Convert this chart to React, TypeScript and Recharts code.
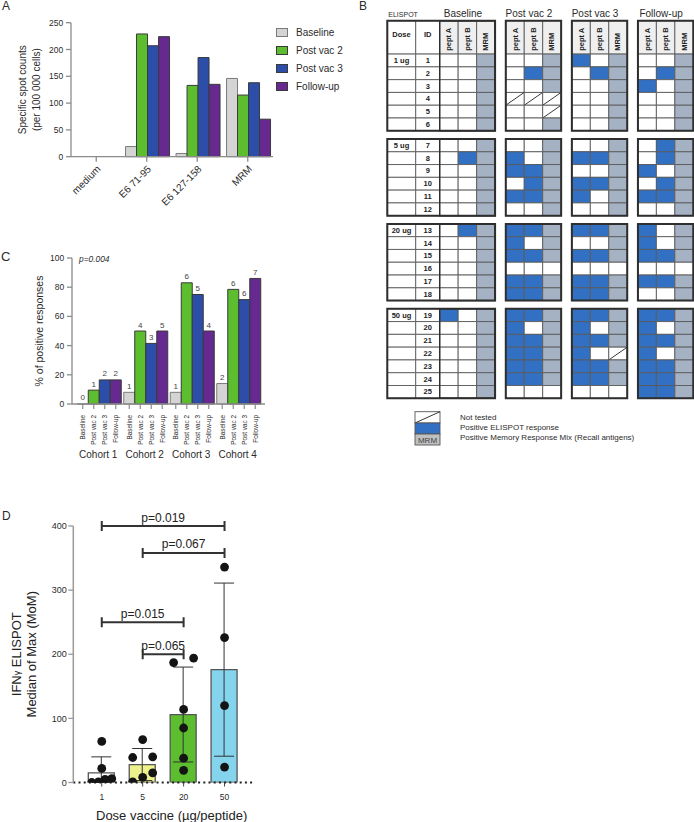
import React from "react";
import {
  Bar,
  BarChart,
  Cell,
  ComposedChart,
  ErrorBar,
  LabelList,
  ReferenceArea,
  ReferenceLine,
  Scatter,
  XAxis,
  YAxis,
} from "recharts";

const FONT = "'Liberation Sans', Arial, Helvetica, sans-serif";
const INK = "#2b2b2b";
const AXIS = { stroke: "#8c8c8c", strokeWidth: 1.3 };

// ---- Panel A: specific spot counts (per 100 000 cells)
const antigens = ["medium", "E6 71-95", "E6 127-158", "MRM"];
const spotsBaseline = [0, 19, 6, 146];
const spotsVac2 = [0, 229, 133, 115];
const spotsVac3 = [0, 207, 185, 138];
const spotsFollowUp = [0, 224, 135, 70];

const timepoints = ["Baseline", "Post vac 2", "Post vac 3", "Follow-up"];
const timepointKeys = ["base", "v2", "v3", "fu"];
const timepointColors = ["#d4d4d4", "#5cbd2e", "#2c4ea8", "#65298f"];
const timepointStrokes = ["#7a7a7a", "#3a3a3a", "#3a3a3a", "#3a3a3a"];

// ---- Panel B: ELISPOT grid. per patient "pept A, pept B, MRM":
// b = positive ELISPOT, m = positive MRM, x = not tested, . = negative
const doseLabels = ["1 ug", "5 ug", "20 ug", "50 ug"];
const cohortSizes = [6, 6, 6, 7];
const elispotBaseline = [
  "..m", "..m", "..m", "..m", "..m", "..m",
  "..m", ".bm", "..m", "..m", "..m", "..m",
  ".bm", "..m", "..m", "..m", "..m", "..m",
  "b.m", "..m", "..m", "..m", "..m", "..m", "..m",
];
const elispotVac2 = [
  "..m", ".bm", "..m", "xxx", "..x", "..m",
  "..m", "b.m", "bbm", ".bm", "bbm", "..m",
  "bbm", "b.m", "bbm", "...", "bbm", "bbm",
  "bbm", "b.m", "bbm", "bbm", "bbm", "bbm", "...",
];
const elispotVac3 = [
  "b.m", ".bm", "..m", "..m", "..m", "..m",
  "..m", "bbm", "..m", "bbm", "b.m", "..m",
  "bbm", "..m", "bbm", "...", "bbm", "bbm",
  "bbm", "b.m", "bbm", "b.x", "bbm", "bbm", "...",
];
const elispotFollowUp = [
  "..m", ".bm", "b.m", "..m", "..m", "..m",
  ".bm", ".bm", "b.m", ".bm", "bbm", "..m",
  "b.m", "b.m", "bbm", "...", "bbm", "..m",
  "bbm", "b.m", "bbm", "b.m", "bbm", "bbm", "bbm",
];
const cellColumns = ["pept A", "pept B", "MRM"];

// ---- Panel C: % of positive responses per cohort
const cohorts = ["Cohort 1", "Cohort 2", "Cohort 3", "Cohort 4"];
const pctBaseline = [0, 8, 8, 14];
const pctVac2 = [9.5, 50, 83, 78.5];
const pctVac3 = [16.5, 41.5, 75, 71.5];
const pctFollowUp = [16.5, 50, 50, 86];
const nBaseline = [0, 1, 1, 2];
const nVac2 = [1, 4, 6, 6];
const nVac3 = [2, 3, 5, 6];
const nFollowUp = [2, 5, 4, 7];

// ---- Panel D: IFNγ ELISPOT median of max per dose
const doses = ["1", "5", "20", "50"];
const momMean = [15, 28, 106, 176];
const momSd = [25, 25, 74, 135];
const momDose1 = [64, 22, 6, 0, 1, 5];
const momDose5 = [67, 40, 39, 15, 8, 1];
const momDose20 = [187, 194, 114, 85, 38, 19];
const momDose50 = [336, 226, 120, 24];
const doseColors = ["#ffffff", "#eef28c", "#5cbd2e", "#84d4ee"];
const comparisons = [
  { from: "1", to: "50", level: 400, p: "p=0.019" },
  { from: "5", to: "50", level: 358, p: "p=0.067" },
  { from: "1", to: "20", level: 250, p: "p=0.015" },
  { from: "5", to: "20", level: 200, p: "p=0.065" },
];

const BLUE = "#3170c3";
const MRM_FILL = "#a4b2c4";

function Note({ left, baseline, size, children, style }: any) {
  return (
    <div
      style={{
        position: "absolute",
        left,
        top: baseline - size * 0.85,
        fontSize: size,
        lineHeight: `${size}px`,
        whiteSpace: "nowrap",
        fontFamily: FONT,
        color: INK,
        ...style,
      }}
    >
      {children}
    </div>
  );
}

const rotatedTitle = (lines: string[], xs: number[], size: number) => (p: any) => {
  const vb = p.viewBox;
  const cy = vb.y + vb.height / 2;
  return (
    <g>
      {lines.map((l, i) => (
        <text
          key={i}
          x={xs[i]}
          y={cy}
          transform={`rotate(-90 ${xs[i]} ${cy})`}
          textAnchor="middle"
          dominantBaseline="central"
          fontSize={size}
          fill={INK}
          fontFamily={FONT}
        >
          {l}
        </text>
      ))}
    </g>
  );
};

function PanelA() {
  const series = [spotsBaseline, spotsVac2, spotsVac3, spotsFollowUp];
  const rows = antigens.map((antigen, i) => {
    const r: any = { antigen };
    timepointKeys.forEach((k, t) => (r[k] = series[t][i]));
    return r;
  });
  return (
    <div style={{ position: "absolute", left: 0, top: 0 }}>
      <BarChart
        width={345}
        height={212}
        data={rows}
        margin={{ top: 22.7, right: 72, bottom: 15.3, left: 0 }}
        barCategoryGap="8%"
        barGap={0}
      >
        <XAxis
          dataKey="antigen"
          height={40}
          interval={0}
          tick={{ fontSize: 10, fill: INK, angle: -45, textAnchor: "end", fontFamily: FONT }}
          tickSize={5}
          tickMargin={3}
          axisLine={AXIS}
          tickLine={AXIS}
        />
        <YAxis
          domain={[0, 250]}
          ticks={[0, 50, 100, 150, 200, 250]}
          width={71}
          tick={{ fontSize: 8.5, fill: INK, fontFamily: FONT }}
          tickSize={5}
          tickMargin={2.7}
          axisLine={AXIS}
          tickLine={AXIS}
          label={rotatedTitle(["Specific spot counts", "(per 100 000 cells)"], [23, 37], 10)}
        />
        {timepointKeys.map((k, t) => (
          <Bar
            key={k}
            dataKey={k}
            fill={timepointColors[t]}
            stroke={timepointStrokes[t]}
            strokeWidth={1}
            isAnimationActive={false}
          />
        ))}
      </BarChart>
      {timepoints.map((name, t) => (
        <div
          key={name}
          style={{
            position: "absolute",
            left: 276,
            top: 32.3 + t * 17.9 - 6,
            height: 12,
            display: "flex",
            alignItems: "center",
            fontFamily: FONT,
            fontSize: 10,
            color: INK,
            whiteSpace: "nowrap",
          }}
        >
          <span
            style={{
              width: 10,
              height: 7,
              background: timepointColors[t],
              border: `1px solid ${timepointStrokes[t]}`,
              marginRight: 8,
            }}
          />
          {name}
        </div>
      ))}
    </div>
  );
}

function PanelB() {
  const data = [elispotBaseline, elispotVac2, elispotVac3, elispotFollowUp];
  const G = { dose: 1.54, id: 1.3, gap: 0.58, head: 2.61, cgap: 0.64 };
  const starts = cohortSizes.map((_, c) => cohortSizes.slice(0, c).reduce((a, b) => a + b, 0));
  const nPatients = cohortSizes.reduce((a, b) => a + b, 0);
  const cohortOf = (i: number) => starts.filter((s) => s <= i).length - 1;
  const rowTop = (i: number) => G.head + i + cohortOf(i) * G.cgap;
  const blockX = (t: number) => G.dose + G.id + t * (3 + G.gap);
  const totalX = blockX(3) + 3;
  const totalY = rowTop(nPatients - 1) + 1;

  const cellLine = { stroke: "#5a5a5a", strokeWidth: 0.9 };
  const centerText = (value: string, size = 7.5, dy = 0) => (p: any) => {
    const vb = p.viewBox;
    return (
      <text
        x={vb.x + vb.width / 2}
        y={vb.y + vb.height / 2 + dy}
        textAnchor="middle"
        dominantBaseline="central"
        fontSize={size}
        fontWeight="bold"
        fill="#222"
        fontFamily={FONT}
      >
        {value}
      </text>
    );
  };
  const headText = (value: string) => (p: any) => {
    const vb = p.viewBox;
    const x = vb.x + vb.width / 2;
    const y = vb.y + vb.height - 3.3;
    return (
      <text
        x={x}
        y={y}
        transform={`rotate(-90 ${x} ${y})`}
        dominantBaseline="central"
        fontSize={7.5}
        fontWeight="bold"
        fill="#222"
        fontFamily={FONT}
      >
        {value}
      </text>
    );
  };
  const titleText = (value: string, size: number, dx: number, anchor: string) => (p: any) => {
    const vb = p.viewBox;
    const x = anchor === "middle" ? vb.x + vb.width / 2 + dx : vb.x + dx;
    return (
      <text x={x} y={vb.y - 3.6} textAnchor={anchor} fontSize={size} fill={INK} fontFamily={FONT}>
        {value}
      </text>
    );
  };
  const notTested = (p: any) => (
    <g>
      <rect x={p.x} y={p.y} width={p.width} height={p.height} fill="#fff" {...cellLine} />
      <line x1={p.x} y1={p.y + p.height} x2={p.x + p.width} y2={p.y} stroke="#222" strokeWidth={0.9} />
    </g>
  );

  const areas: React.ReactNode[] = [];
  // header row
  areas.push(
    <ReferenceArea key="h-dose" x1={0} x2={G.dose} y1={0} y2={G.head} fill="#fff" fillOpacity={1} {...cellLine} label={centerText("Dose", 7.5, -2.5)} />,
    <ReferenceArea key="h-id" x1={G.dose} x2={G.dose + G.id} y1={0} y2={G.head} fill="#fff" fillOpacity={1} {...cellLine} label={centerText("ID", 7.5, -2.5)} />,
    <ReferenceArea key="h-eli" x1={0} x2={G.dose} y1={0} y2={G.head} fill="none" stroke="none" label={titleText("ELISPOT", 7, 1, "start")} />
  );
  timepoints.forEach((tp, t) => {
    cellColumns.forEach((col, k) => {
      areas.push(
        <ReferenceArea
          key={`h-${t}-${k}`}
          x1={blockX(t) + k}
          x2={blockX(t) + k + 1}
          y1={0}
          y2={G.head}
          fill="#efefef"
          fillOpacity={1}
          {...cellLine}
          label={headText(col)}
        />
      );
    });
    areas.push(
      <ReferenceArea key={`title-${t}`} x1={blockX(t)} x2={blockX(t) + 3} y1={0} y2={G.head} fill="none" stroke="none" label={titleText(tp, 10, -4.5, "middle")} />
    );
  });
  // patient rows
  for (let i = 0; i < nPatients; i++) {
    const y1 = rowTop(i);
    const y2 = y1 + 1;
    const c = cohortOf(i);
    areas.push(
      <ReferenceArea key={`d-${i}`} x1={0} x2={G.dose} y1={y1} y2={y2} fill="#fff" fillOpacity={1} {...cellLine} label={starts[c] === i ? centerText(doseLabels[c]) : undefined} />,
      <ReferenceArea key={`id-${i}`} x1={G.dose} x2={G.dose + G.id} y1={y1} y2={y2} fill="#fff" fillOpacity={1} {...cellLine} label={centerText(String(i + 1))} />
    );
    data.forEach((tpRows, t) => {
      tpRows[i].split("").forEach((s, k) => {
        const common = { x1: blockX(t) + k, x2: blockX(t) + k + 1, y1, y2 };
        if (s === "x") {
          areas.push(<ReferenceArea key={`c-${t}-${i}-${k}`} {...common} shape={notTested} />);
        } else {
          const fill = s === "b" ? BLUE : s === "m" ? MRM_FILL : "#ffffff";
          areas.push(<ReferenceArea key={`c-${t}-${i}-${k}`} {...common} fill={fill} fillOpacity={1} {...cellLine} />);
        }
      });
    });
  }
  // thick outlines per cohort block
  cohortSizes.forEach((n, c) => {
    const top = c === 0 ? 0 : rowTop(starts[c]);
    const bottom = rowTop(starts[c]) + n;
    areas.push(
      <ReferenceArea key={`o-first-${c}`} x1={0} x2={blockX(0) + 3} y1={top} y2={bottom} fill="none" stroke="#2e2e2e" strokeWidth={2} />,
      <ReferenceArea key={`o-sep-${c}`} x1={G.dose + G.id} x2={blockX(0) + 3} y1={top} y2={bottom} fill="none" stroke="#2e2e2e" strokeWidth={1.4} />
    );
    for (let t = 1; t < 4; t++) {
      areas.push(
        <ReferenceArea key={`o-${t}-${c}`} x1={blockX(t)} x2={blockX(t) + 3} y1={top} y2={bottom} fill="none" stroke="#2e2e2e" strokeWidth={2} />
      );
    }
  });

  return (
    <div style={{ position: "absolute", left: 385, top: 0 }}>
      <ComposedChart width={309} height={400} margin={{ top: 20.7, right: 0.7, bottom: 1.7, left: 2.3 }}>
        <XAxis type="number" dataKey="x" domain={[0, totalX]} hide allowDataOverflow />
        <YAxis type="number" dataKey="y" domain={[0, totalY]} reversed hide allowDataOverflow />
        {areas}
      </ComposedChart>
    </div>
  );
}

function PanelBLegend() {
  return (
    <>
      <svg style={{ position: "absolute", left: 414, top: 410 }} width={28} height={37}>
        <rect x={1} y={1.7} width={25} height={11.3} fill="#fff" stroke="#555" strokeWidth={0.9} />
        <line x1={1} y1={13} x2={26} y2={1.7} stroke="#222" strokeWidth={0.9} />
        <rect x={1} y={13} width={25} height={11} fill={BLUE} stroke="#555" strokeWidth={0.9} />
        <rect x={1} y={24} width={25} height={11} fill="#c0c0c0" stroke="#555" strokeWidth={0.9} />
        <text x={13.5} y={32.6} textAnchor="middle" fontSize={8} fill="#444" fontFamily={FONT}>
          MRM
        </text>
      </svg>
      <Note left={460} baseline={421.2} size={8}>Not tested</Note>
      <Note left={460} baseline={431.2} size={8}>Positive ELISPOT response</Note>
      <Note left={460} baseline={441.2} size={8}>Positive Memory Response Mix (Recall antigens)</Note>
    </>
  );
}

function UnderLabel({ p, name }: any) {
  const vb = p.viewBox ?? p;
  const cx = vb.x + vb.width / 2;
  const base = vb.y + vb.height;
  const ty = base + 11;
  return (
    <g>
      <line x1={cx} y1={base} x2={cx} y2={base + 5} stroke="#8c8c8c" strokeWidth={1.2} />
      <text
        x={cx}
        y={ty}
        transform={`rotate(-90 ${cx} ${ty})`}
        textAnchor="end"
        dominantBaseline="central"
        fontSize={6.4}
        fill={INK}
        fontFamily={FONT}
      >
        {name}
      </text>
    </g>
  );
}

function PanelC() {
  const series = [pctBaseline, pctVac2, pctVac3, pctFollowUp];
  const counts = [nBaseline, nVac2, nVac3, nFollowUp];
  const rows = cohorts.map((cohort, i) => {
    const r: any = { cohort };
    timepointKeys.forEach((k, t) => {
      r[k] = series[t][i];
      r[`n_${k}`] = counts[t][i];
    });
    return r;
  });
  return (
    <div style={{ position: "absolute", left: 0, top: 240 }}>
      <BarChart
        width={345}
        height={230}
        data={rows}
        margin={{ top: 18, right: 80, bottom: 6, left: 0 }}
        barCategoryGap={2.25}
        barGap={0}
      >
        <XAxis
          dataKey="cohort"
          height={60}
          interval={0}
          padding={{ left: 3, right: 4 }}
          tickSize={0}
          tickMargin={0}
          tickLine={false}
          axisLine={AXIS}
          tick={(p: any) => (
            <text x={p.x} y={p.y + 53.5} textAnchor="middle" fontSize={10} fill={INK} fontFamily={FONT}>
              {p.payload.value}
            </text>
          )}
        />
        <YAxis
          domain={[0, 100]}
          ticks={[0, 20, 40, 60, 80, 100]}
          width={72}
          tick={{ fontSize: 8.5, fill: INK, fontFamily: FONT }}
          tickSize={5}
          tickMargin={2.7}
          axisLine={AXIS}
          tickLine={AXIS}
          label={rotatedTitle(["% of positive responses"], [39], 10.5)}
        />
        {timepointKeys.map((k, t) => (
          <Bar
            key={k}
            dataKey={k}
            fill={timepointColors[t]}
            stroke={timepointStrokes[t]}
            strokeWidth={1}
            minPointSize={(v: number) => (v === 0 ? 0.01 : 0)}
            isAnimationActive={false}
          >
            <LabelList dataKey={`n_${k}`} position="top" offset={3.5} fontSize={8} fill="#444" fontFamily={FONT} />
            <LabelList dataKey={k} content={(p: any) => <UnderLabel p={p} name={timepoints[t]} />} />
          </Bar>
        ))}
      </BarChart>
      <Note left={79} baseline={22.5} size={8.4} style={{ fontStyle: "italic" }}>
        p=0.004
      </Note>
    </div>
  );
}

// horizontal spread of dots that overlap in value (GraphPad-like scatter)
function spreadOffsets(values: number[], closeness: number, span: number) {
  const order = values.map((_, i) => i).sort((a, b) => values[a] - values[b]);
  const offs = values.map(() => 0);
  let group: number[] = [];
  const flush = () => {
    const n = group.length;
    group.forEach((idx, k) => (offs[idx] = n > 1 ? (k / (n - 1) - 0.5) * span : 0));
    group = [];
  };
  order.forEach((idx) => {
    if (group.length && values[idx] - values[group[group.length - 1]] >= closeness) flush();
    group.push(idx);
  });
  flush();
  return offs;
}

function PanelD() {
  const points = [momDose1, momDose5, momDose20, momDose50];
  const rows = doses.map((dose, i) => {
    const r: any = { dose, mean: momMean[i], err: [Math.min(momSd[i], momMean[i]), momSd[i]] };
    const offs = spreadOffsets(points[i], 14, 20);
    points[i].forEach((v, k) => {
      r[`p${k}`] = v;
      r[`dx${k}`] = offs[k];
    });
    return r;
  });
  const maxPts = Math.max(...points.map((p) => p.length));
  const dot = (k: number) => (p: any) => {
    if (p.payload == null || p.payload[`p${k}`] == null || !Number.isFinite(p.cy)) return <g />;
    return <circle cx={p.cx + p.payload[`dx${k}`]} cy={p.cy} r={4.4} fill="#141414" />;
  };
  const bracket = (p: any) => (
    <path
      d={`M${p.x1},${p.y1 - 5}V${p.y1 + 5}M${p.x1},${p.y1}H${p.x2}M${p.x2},${p.y2 - 5}V${p.y2 + 5}`}
      stroke="#333"
      strokeWidth={2}
      fill="none"
    />
  );
  return (
    <div style={{ position: "absolute", left: 0, top: 500 }}>
      <ComposedChart width={300} height={322} data={rows} margin={{ top: 26, right: 47, bottom: 9.5, left: 0 }}>
        <XAxis
          dataKey="dose"
          height={30}
          padding={{ left: 8, right: 8 }}
          tick={{ fontSize: 8.5, fill: INK, fontFamily: FONT }}
          tickSize={4}
          tickMargin={7}
          axisLine={{ stroke: "#222", strokeWidth: 2, strokeDasharray: "2 3.2" }}
          tickLine={{ stroke: "#444" }}
          label={(p: any) => (
            <text
              x={p.viewBox.x + p.viewBox.width / 2 + 8.5}
              y={p.viewBox.y + 37.2}
              textAnchor="middle"
              fontSize={13}
              fill="#222"
              fontFamily={FONT}
            >
              Dose vaccine (µg/peptide)
            </text>
          )}
        />
        <YAxis
          domain={[0, 400]}
          ticks={[0, 100, 200, 300, 400]}
          width={73.3}
          allowDataOverflow
          tick={{ fontSize: 9, fill: INK, fontFamily: FONT }}
          tickSize={5}
          tickMargin={1.5}
          axisLine={{ stroke: "#9a9a9a", strokeWidth: 1.5 }}
          tickLine={{ stroke: "#9a9a9a", strokeWidth: 1.3 }}
          label={(p: any) => {
            const cy = p.viewBox.y + p.viewBox.height / 2;
            return (
              <g fontFamily={FONT} fill="#222" fontSize={13}>
                <text x={16.7} y={cy} transform={`rotate(-90 16.7 ${cy})`} textAnchor="middle" dominantBaseline="central">
                  IFN<tspan fontSize={9}>γ</tspan> ELISPOT
                </text>
                <text x={31.7} y={cy} transform={`rotate(-90 31.7 ${cy})`} textAnchor="middle" dominantBaseline="central">
                  Median of Max (MoM)
                </text>
              </g>
            );
          }}
        />
        <Bar dataKey="mean" barSize={26} stroke="#555" strokeWidth={1.3} isAnimationActive={false}>
          {rows.map((_, i) => (
            <Cell key={i} fill={doseColors[i]} />
          ))}
          <ErrorBar dataKey="err" width={10} stroke="#333" strokeWidth={1} isAnimationActive={false} />
        </Bar>
        {Array.from({ length: maxPts }, (_, k) => (
          <Scatter key={k} dataKey={`p${k}`} shape={dot(k)} isAnimationActive={false} />
        ))}
        {comparisons.map((c) => (
          <ReferenceLine
            key={c.p}
            segment={[
              { x: c.from, y: c.level },
              { x: c.to, y: c.level },
            ]}
            ifOverflow="visible"
            stroke="#333"
            shape={bracket}
            label={{ value: c.p, position: "top", offset: 4.5, fontSize: 12, fill: "#222", fontFamily: FONT }}
          />
        ))}
      </ComposedChart>
    </div>
  );
}

export default function App() {
  return (
    <div
      style={{
        position: "absolute",
        left: 0,
        top: 0,
        width: 694,
        height: 822,
        background: "#fff",
        overflow: "hidden",
        fontFamily: FONT,
      }}
    >
      <PanelA />
      <PanelB />
      <PanelBLegend />
      <PanelC />
      <PanelD />
      <Note left={2} baseline={10.3} size={12}>A</Note>
      <Note left={359} baseline={10.3} size={12}>B</Note>
      <Note left={1} baseline={261.5} size={13}>C</Note>
      <Note left={2} baseline={520.3} size={12}>D</Note>
    </div>
  );
}
